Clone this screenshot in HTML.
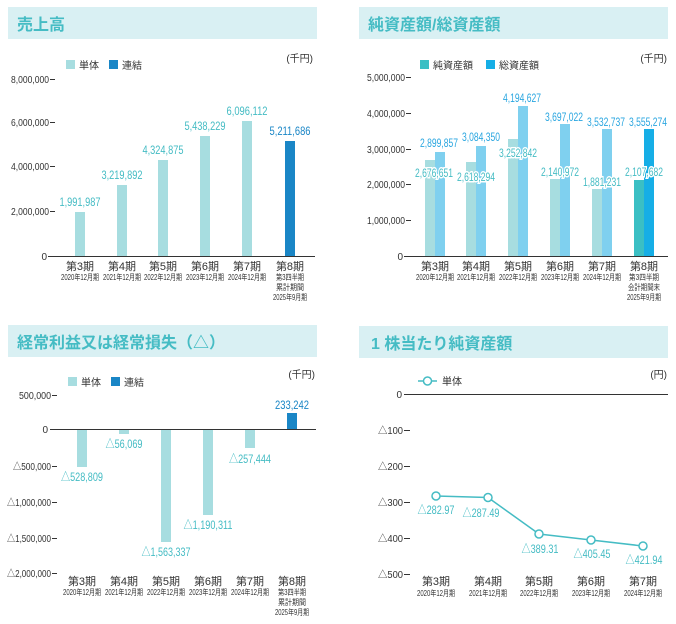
<!DOCTYPE html>
<html><head><meta charset="utf-8"><style>
html,body{margin:0;padding:0;background:#fff;}
svg{display:block;}
text{font-family:"Liberation Sans","Noto Sans CJK JP",sans-serif;}
.h{font-weight:bold;font-size:16px;fill:#45bcc4;}
.tk{font-size:10px;fill:#333;text-anchor:end;}
.lg{font-size:10px;fill:#333;}
.u{font-size:10px;fill:#333;text-anchor:end;}
.p{font-size:11px;fill:#333;text-anchor:middle;}
.s{font-size:8px;fill:#333;text-anchor:middle;}
.v{font-size:12px;fill:#45bcc4;text-anchor:middle;}
.vb{font-size:12px;fill:#1a86c6;text-anchor:middle;}
.vt{font-size:12px;fill:#2aa6e0;text-anchor:middle;}
.w{stroke:#fff;stroke-width:3px;paint-order:stroke;}
</style></head><body>
<svg width="676" height="624" viewBox="0 0 676 624" xmlns="http://www.w3.org/2000/svg" lengthAdjust="spacingAndGlyphs">
<!-- Panel 1 -->
<rect x="8" y="7" width="309" height="32" fill="#d9f0f3"/>
<text class="h" x="17" y="30">売上高</text>
<rect x="66" y="60" width="9" height="9" fill="#a7dde0"/><text class="lg" x="79" y="69">単体</text>
<rect x="109" y="60" width="9" height="9" fill="#1a86c6"/><text class="lg" x="122" y="69">連結</text>
<text class="u" x="313" y="62">(千円)</text>
<g stroke="#333" stroke-width="1">
<line x1="50" y1="79.5" x2="55" y2="79.5"/><line x1="50" y1="122.5" x2="55" y2="122.5"/><line x1="50" y1="166.5" x2="55" y2="166.5"/><line x1="50" y1="211.5" x2="55" y2="211.5"/>
<line x1="48" y1="256.5" x2="315" y2="256.5"/></g>
<text class="tk" x="49" y="83" textLength="38" lengthAdjust="spacingAndGlyphs">8,000,000</text><text class="tk" x="49" y="126" textLength="38" lengthAdjust="spacingAndGlyphs">6,000,000</text><text class="tk" x="49" y="170" textLength="38" lengthAdjust="spacingAndGlyphs">4,000,000</text><text class="tk" x="49" y="215" textLength="38" lengthAdjust="spacingAndGlyphs">2,000,000</text><text class="tk" x="47" y="260">0</text>
<rect x="75" y="212" width="10" height="44" fill="#a7dde0"/>
<rect x="117" y="185" width="10" height="71" fill="#a7dde0"/>
<rect x="158" y="160" width="10" height="96" fill="#a7dde0"/>
<rect x="200" y="136" width="10" height="120" fill="#a7dde0"/>
<rect x="242" y="121" width="10" height="135" fill="#a7dde0"/>
<rect x="285" y="141" width="10" height="115" fill="#1a86c6"/>
<text class="v" x="80" y="206" textLength="41" lengthAdjust="spacingAndGlyphs">1,991,987</text><text class="v" x="122" y="179" textLength="41" lengthAdjust="spacingAndGlyphs">3,219,892</text><text class="v" x="163" y="154" textLength="41" lengthAdjust="spacingAndGlyphs">4,324,875</text><text class="v" x="205" y="130" textLength="41" lengthAdjust="spacingAndGlyphs">5,438,229</text><text class="v" x="247" y="115" textLength="41" lengthAdjust="spacingAndGlyphs">6,096,112</text><text class="vb" x="290" y="135" textLength="41" lengthAdjust="spacingAndGlyphs">5,211,686</text>
<text class="p" x="80" y="270">第3期</text><text class="p" x="122" y="270">第4期</text><text class="p" x="163" y="270">第5期</text><text class="p" x="205" y="270">第6期</text><text class="p" x="247" y="270">第7期</text><text class="p" x="290" y="270">第8期</text>
<text class="s" x="80" y="280" textLength="38" lengthAdjust="spacingAndGlyphs">2020年12月期</text><text class="s" x="122" y="280" textLength="38" lengthAdjust="spacingAndGlyphs">2021年12月期</text><text class="s" x="163" y="280" textLength="38" lengthAdjust="spacingAndGlyphs">2022年12月期</text><text class="s" x="205" y="280" textLength="38" lengthAdjust="spacingAndGlyphs">2023年12月期</text><text class="s" x="247" y="280" textLength="38" lengthAdjust="spacingAndGlyphs">2024年12月期</text>
<text class="s" x="290" y="280" textLength="28" lengthAdjust="spacingAndGlyphs">第3四半期</text><text class="s" x="290" y="290" textLength="28" lengthAdjust="spacingAndGlyphs">累計期間</text><text class="s" x="290" y="300" textLength="34" lengthAdjust="spacingAndGlyphs">2025年9月期</text>

<!-- Panel 2 -->
<rect x="359" y="7" width="309" height="32" fill="#d9f0f3"/>
<text class="h" x="368" y="30">純資産額/総資産額</text>
<rect x="420" y="60" width="9" height="9" fill="#3bbfc4"/><text class="lg" x="433" y="69">純資産額</text>
<rect x="486" y="60" width="9" height="9" fill="#16aee6"/><text class="lg" x="499" y="69">総資産額</text>
<text class="u" x="667" y="62">(千円)</text>
<g stroke="#333" stroke-width="1">
<line x1="406" y1="77.5" x2="411" y2="77.5"/><line x1="406" y1="113.5" x2="411" y2="113.5"/><line x1="406" y1="149.5" x2="411" y2="149.5"/><line x1="406" y1="184.5" x2="411" y2="184.5"/><line x1="406" y1="220.5" x2="411" y2="220.5"/>
<line x1="404" y1="256.5" x2="668" y2="256.5"/></g>
<text class="tk" x="405" y="81" textLength="38" lengthAdjust="spacingAndGlyphs">5,000,000</text><text class="tk" x="405" y="117" textLength="38" lengthAdjust="spacingAndGlyphs">4,000,000</text><text class="tk" x="405" y="153" textLength="38" lengthAdjust="spacingAndGlyphs">3,000,000</text><text class="tk" x="405" y="188" textLength="38" lengthAdjust="spacingAndGlyphs">2,000,000</text><text class="tk" x="405" y="224" textLength="38" lengthAdjust="spacingAndGlyphs">1,000,000</text><text class="tk" x="403" y="260">0</text>
<rect x="425" y="160" width="10" height="96" fill="#a7dde0"/><rect x="435" y="152" width="10" height="104" fill="#7fd0ef"/>
<rect x="466" y="162" width="10" height="94" fill="#a7dde0"/><rect x="476" y="146" width="10" height="110" fill="#7fd0ef"/>
<rect x="508" y="139" width="10" height="117" fill="#a7dde0"/><rect x="518" y="106" width="10" height="150" fill="#7fd0ef"/>
<rect x="550" y="179" width="10" height="77" fill="#a7dde0"/><rect x="560" y="124" width="10" height="132" fill="#7fd0ef"/>
<rect x="592" y="189" width="10" height="67" fill="#a7dde0"/><rect x="602" y="129" width="10" height="127" fill="#7fd0ef"/>
<rect x="634" y="180" width="10" height="76" fill="#3bbfc4"/><rect x="644" y="129" width="10" height="127" fill="#16aee6"/>
<text class="vt" x="439" y="147" textLength="38" lengthAdjust="spacingAndGlyphs">2,899,857</text><text class="vt" x="481" y="141" textLength="38" lengthAdjust="spacingAndGlyphs">3,084,350</text><text class="vt" x="522" y="102" textLength="38" lengthAdjust="spacingAndGlyphs">4,194,627</text><text class="vt" x="564" y="121" textLength="38" lengthAdjust="spacingAndGlyphs">3,697,022</text><text class="vt" x="606" y="126" textLength="38" lengthAdjust="spacingAndGlyphs">3,532,737</text><text class="vt" x="648" y="126" textLength="38" lengthAdjust="spacingAndGlyphs">3,555,274</text>
<text class="v w" x="434" y="177" textLength="38" lengthAdjust="spacingAndGlyphs">2,676,651</text><text class="v w" x="476" y="181" textLength="38" lengthAdjust="spacingAndGlyphs">2,618,294</text><text class="v w" x="518" y="157" textLength="38" lengthAdjust="spacingAndGlyphs">3,252,842</text><text class="v w" x="560" y="176" textLength="38" lengthAdjust="spacingAndGlyphs">2,140,972</text><text class="v w" x="602" y="186" textLength="38" lengthAdjust="spacingAndGlyphs">1,881,231</text><text class="v w" x="644" y="176" textLength="38" lengthAdjust="spacingAndGlyphs">2,107,682</text>
<text class="p" x="435" y="270">第3期</text><text class="p" x="476" y="270">第4期</text><text class="p" x="518" y="270">第5期</text><text class="p" x="560" y="270">第6期</text><text class="p" x="602" y="270">第7期</text><text class="p" x="644" y="270">第8期</text>
<text class="s" x="435" y="280" textLength="38" lengthAdjust="spacingAndGlyphs">2020年12月期</text><text class="s" x="476" y="280" textLength="38" lengthAdjust="spacingAndGlyphs">2021年12月期</text><text class="s" x="518" y="280" textLength="38" lengthAdjust="spacingAndGlyphs">2022年12月期</text><text class="s" x="560" y="280" textLength="38" lengthAdjust="spacingAndGlyphs">2023年12月期</text><text class="s" x="602" y="280" textLength="38" lengthAdjust="spacingAndGlyphs">2024年12月期</text>
<text class="s" x="644" y="280" textLength="30" lengthAdjust="spacingAndGlyphs">第3四半期</text><text class="s" x="644" y="290" textLength="32" lengthAdjust="spacingAndGlyphs">会計期間末</text><text class="s" x="644" y="300" textLength="34" lengthAdjust="spacingAndGlyphs">2025年9月期</text>

<!-- Panel 3 -->
<rect x="8" y="325" width="309" height="32" fill="#d9f0f3"/>
<text class="h" x="17" y="348">経常利益又は経常損失（△）</text>
<rect x="68" y="377" width="9" height="9" fill="#a7dde0"/><text class="lg" x="81" y="386">単体</text>
<rect x="111" y="377" width="9" height="9" fill="#1a86c6"/><text class="lg" x="124" y="386">連結</text>
<text class="u" x="315" y="378">(千円)</text>
<g stroke="#333" stroke-width="1">
<line x1="52" y1="395.5" x2="57" y2="395.5"/><line x1="52" y1="466.5" x2="57" y2="466.5"/><line x1="52" y1="502.5" x2="57" y2="502.5"/><line x1="52" y1="538.5" x2="57" y2="538.5"/><line x1="52" y1="573.5" x2="57" y2="573.5"/>
<line x1="50" y1="429.5" x2="316" y2="429.5"/></g>
<text class="tk" x="51" y="399" textLength="32" lengthAdjust="spacingAndGlyphs">500,000</text><text class="tk" x="48" y="433">0</text><text class="tk" x="51" y="470" textLength="38" lengthAdjust="spacingAndGlyphs">△500,000</text><text class="tk" x="51" y="506" textLength="44" lengthAdjust="spacingAndGlyphs">△1,000,000</text><text class="tk" x="51" y="542" textLength="44" lengthAdjust="spacingAndGlyphs">△1,500,000</text><text class="tk" x="51" y="577" textLength="44" lengthAdjust="spacingAndGlyphs">△2,000,000</text>
<rect x="77" y="430" width="10" height="37" fill="#a7dde0"/>
<rect x="119" y="430" width="10" height="4" fill="#a7dde0"/>
<rect x="161" y="430" width="10" height="112" fill="#a7dde0"/>
<rect x="203" y="430" width="10" height="85" fill="#a7dde0"/>
<rect x="245" y="430" width="10" height="18" fill="#a7dde0"/>
<rect x="287" y="413" width="10" height="16" fill="#1a86c6"/>
<text class="v" x="82" y="481" textLength="42" lengthAdjust="spacingAndGlyphs">△528,809</text><text class="v" x="124" y="448" textLength="37" lengthAdjust="spacingAndGlyphs">△56,069</text><text class="v" x="166" y="556" textLength="49" lengthAdjust="spacingAndGlyphs">△1,563,337</text><text class="v" x="208" y="529" textLength="49" lengthAdjust="spacingAndGlyphs">△1,190,311</text><text class="v" x="250" y="463" textLength="42" lengthAdjust="spacingAndGlyphs">△257,444</text><text class="vb" x="292" y="409" textLength="34" lengthAdjust="spacingAndGlyphs">233,242</text>
<text class="p" x="82" y="585">第3期</text><text class="p" x="124" y="585">第4期</text><text class="p" x="166" y="585">第5期</text><text class="p" x="208" y="585">第6期</text><text class="p" x="250" y="585">第7期</text><text class="p" x="292" y="585">第8期</text>
<text class="s" x="82" y="595" textLength="38" lengthAdjust="spacingAndGlyphs">2020年12月期</text><text class="s" x="124" y="595" textLength="38" lengthAdjust="spacingAndGlyphs">2021年12月期</text><text class="s" x="166" y="595" textLength="38" lengthAdjust="spacingAndGlyphs">2022年12月期</text><text class="s" x="208" y="595" textLength="38" lengthAdjust="spacingAndGlyphs">2023年12月期</text><text class="s" x="250" y="595" textLength="38" lengthAdjust="spacingAndGlyphs">2024年12月期</text>
<text class="s" x="292" y="595" textLength="28" lengthAdjust="spacingAndGlyphs">第3四半期</text><text class="s" x="292" y="605" textLength="28" lengthAdjust="spacingAndGlyphs">累計期間</text><text class="s" x="292" y="615" textLength="34" lengthAdjust="spacingAndGlyphs">2025年9月期</text>

<!-- Panel 4 -->
<rect x="359" y="326" width="309" height="32" fill="#d9f0f3"/>
<text class="h" x="371" y="349">1 株当たり純資産額</text>
<line x1="418" y1="381" x2="437" y2="381" stroke="#45bcc4" stroke-width="1.5"/><circle cx="427.5" cy="381" r="4" fill="#fff" stroke="#45bcc4" stroke-width="1.5"/>
<text class="lg" x="442" y="385">単体</text>
<text class="u" x="667" y="378">(円)</text>
<g stroke="#333" stroke-width="1">
<line x1="404" y1="394.5" x2="668" y2="394.5"/>
<line x1="404" y1="430.5" x2="410" y2="430.5"/><line x1="404" y1="466.5" x2="410" y2="466.5"/><line x1="404" y1="502.5" x2="410" y2="502.5"/><line x1="404" y1="538.5" x2="410" y2="538.5"/><line x1="404" y1="574.5" x2="410" y2="574.5"/></g>
<text class="tk" x="402" y="398">0</text><text class="tk" x="403" y="434" textLength="25" lengthAdjust="spacingAndGlyphs">△100</text><text class="tk" x="403" y="470" textLength="25" lengthAdjust="spacingAndGlyphs">△200</text><text class="tk" x="403" y="506" textLength="25" lengthAdjust="spacingAndGlyphs">△300</text><text class="tk" x="403" y="542" textLength="25" lengthAdjust="spacingAndGlyphs">△400</text><text class="tk" x="403" y="578" textLength="25" lengthAdjust="spacingAndGlyphs">△500</text>
<polyline points="436,496 488,497.5 539,534 591,540 643,546" fill="none" stroke="#45bcc4" stroke-width="1.5"/>
<g fill="#fff" stroke="#45bcc4" stroke-width="1.5"><circle cx="436" cy="496" r="4"/><circle cx="488" cy="497.5" r="4"/><circle cx="539" cy="534" r="4"/><circle cx="591" cy="540" r="4"/><circle cx="643" cy="546" r="4"/></g>
<text class="v" x="436" y="514" textLength="37" lengthAdjust="spacingAndGlyphs">△282.97</text><text class="v" x="481" y="517" textLength="37" lengthAdjust="spacingAndGlyphs">△287.49</text><text class="v" x="540" y="553" textLength="37" lengthAdjust="spacingAndGlyphs">△389.31</text><text class="v" x="592" y="558" textLength="37" lengthAdjust="spacingAndGlyphs">△405.45</text><text class="v" x="644" y="564" textLength="37" lengthAdjust="spacingAndGlyphs">△421.94</text>
<text class="p" x="436" y="585">第3期</text><text class="p" x="488" y="585">第4期</text><text class="p" x="539" y="585">第5期</text><text class="p" x="591" y="585">第6期</text><text class="p" x="643" y="585">第7期</text>
<text class="s" x="436" y="596" textLength="38" lengthAdjust="spacingAndGlyphs">2020年12月期</text><text class="s" x="488" y="596" textLength="38" lengthAdjust="spacingAndGlyphs">2021年12月期</text><text class="s" x="539" y="596" textLength="38" lengthAdjust="spacingAndGlyphs">2022年12月期</text><text class="s" x="591" y="596" textLength="38" lengthAdjust="spacingAndGlyphs">2023年12月期</text><text class="s" x="643" y="596" textLength="38" lengthAdjust="spacingAndGlyphs">2024年12月期</text>
</svg>
</body></html>
